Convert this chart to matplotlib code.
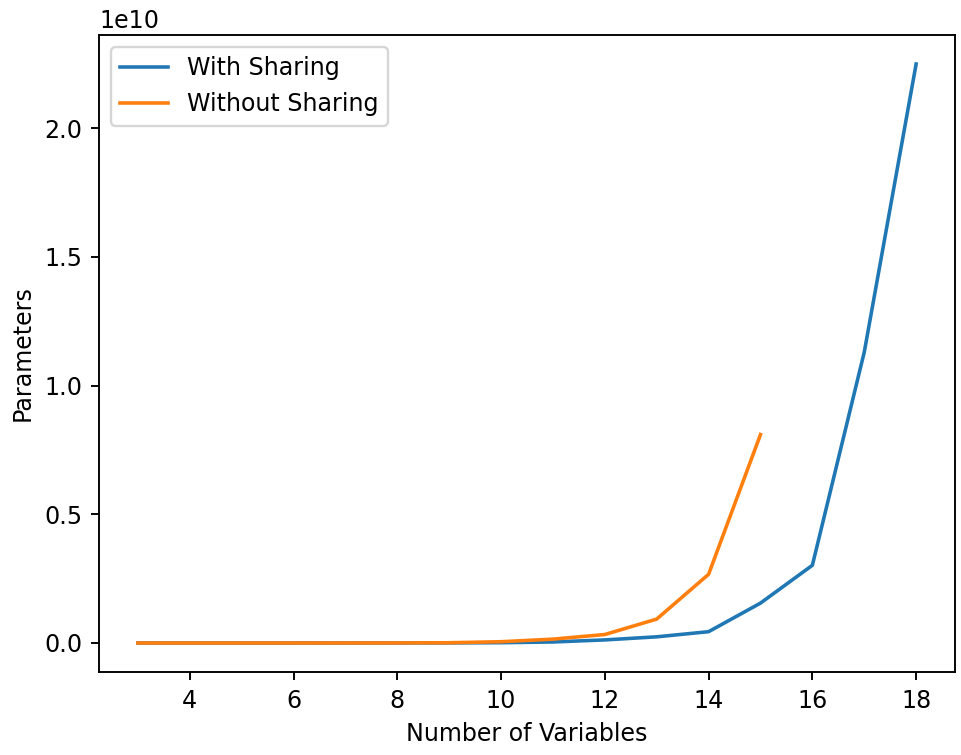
import matplotlib
matplotlib.use("Agg")
import matplotlib.pyplot as plt

# Datos
vars_con = [3, 4, 5, 6, 7, 8, 9, 10, 11, 12, 13, 14, 15, 16, 17, 18]
params_con = [1e3, 1e4, 5e4, 2e5, 6e5, 1.5e6, 4e6, 1.2e7, 4e7, 1.2e8, 2.4e8,
              4.4e8, 1.55e9, 3.02e9, 1.13e10, 2.25e10]

vars_sin = [3, 4, 5, 6, 7, 8, 9, 10, 11, 12, 13, 14, 15]
params_sin = [1e3, 1e4, 6e4, 3e5, 1e6, 3e6, 1e7, 5e7, 1.5e8, 3.3e8, 9.3e8,
              2.67e9, 8.1e9]

DPI = 171
fig, ax = plt.subplots(figsize=(961 / DPI, 755 / DPI), dpi=DPI)

ax.plot(vars_con, params_con, label="With Sharing")
ax.plot(vars_sin, params_sin, label="Without Sharing")

ax.set_xlabel("Number of Variables")
ax.set_ylabel("Parameters")
ax.legend(loc="upper left")

fig.subplots_adjust(left=0.103, right=0.9938, top=0.9536, bottom=0.110)
fig.savefig("out.png", dpi=DPI)
